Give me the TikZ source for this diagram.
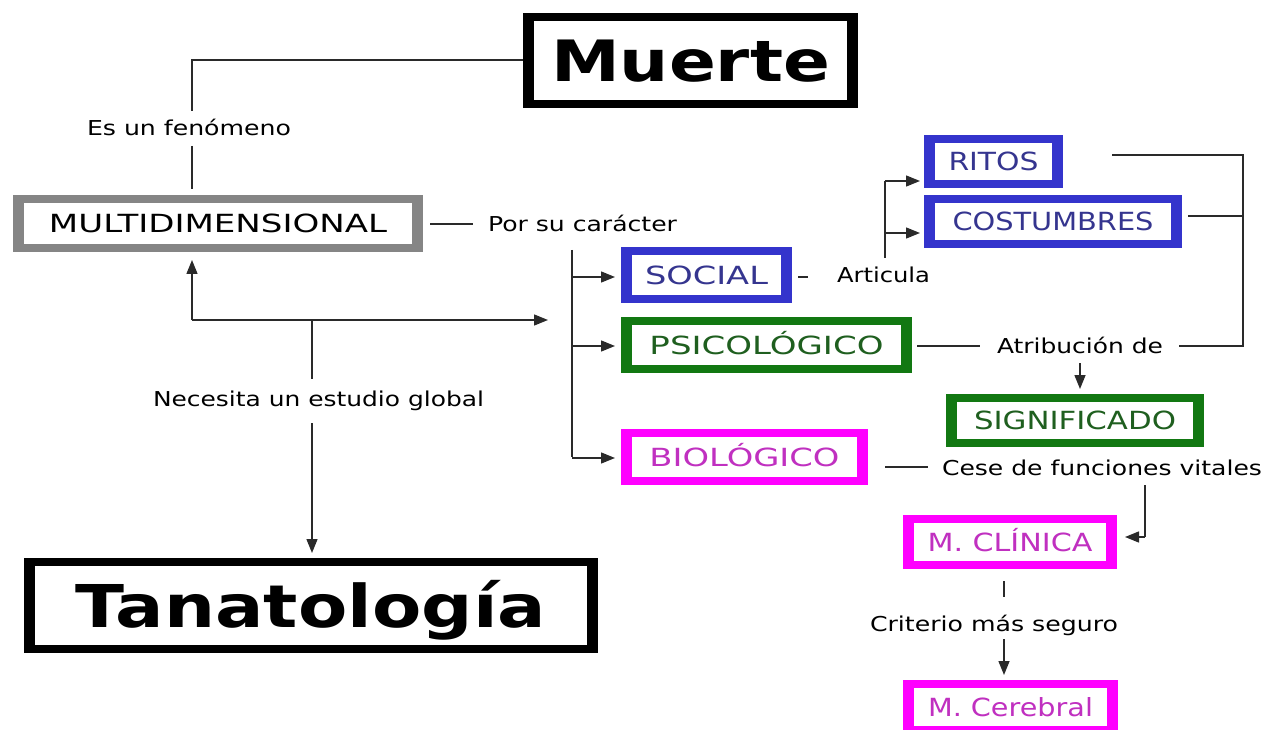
\documentclass[tikz,border=0pt]{standalone}
\usepackage{fontspec}
\setmainfont{DejaVu Sans}
\usetikzlibrary{arrows.meta}
\definecolor{cblue}{HTML}{3434CC}
\definecolor{tblue}{HTML}{35358F}
\definecolor{cgreen}{HTML}{127812}
\definecolor{tgreen}{HTML}{1F5F1F}
\definecolor{cmag}{HTML}{FF00FF}
\definecolor{tmag}{HTML}{C030C0}
\definecolor{cgray}{HTML}{858585}
\definecolor{cline}{HTML}{2A2A2A}
\newcommand\fitw[2]{\resizebox{#1pt}{\height}{#2}}
\tikzset{
  box/.style 2 args={fill=#1, text=#2, inner sep=0pt, outer sep=0pt,
    path picture={\fill[white] ([shift={(11pt,8pt)}]path picture bounding box.south west)
      rectangle ([shift={(-11pt,-8pt)}]path picture bounding box.north east);}},
  sz/.style 2 args={minimum width=#1pt, minimum height=#2pt},
  btext/.style={font=\fontsize{25}{26}\selectfont, text height=18.2pt, text depth=0pt},
  bigtext/.style={font=\fontsize{57}{60}\selectfont\bfseries, text height=41.5pt, text depth=0pt},
  lbl/.style={font=\fontsize{20.5}{22}\selectfont, inner sep=0pt, outer sep=0pt, anchor=base west, text=black},
  ln/.style={draw=cline, line width=1.4pt},
  arr/.style={ln, -{Triangle[length=14pt,width=11pt]}},
}
\begin{document}
\begin{tikzpicture}[x=1pt,y=-1pt]
\useasboundingbox (0,0) rectangle (1283,730);
\fill[white] (0,0) rectangle (1283,730);

% boxes
\node[box={black}{black}, sz={335}{95}, bigtext] (muerte) at (690.5,60.5) {\fitw{279}{Muerte}};
\node[box={black}{black}, sz={574}{95}, bigtext, font=\fontsize{59}{62}\selectfont\bfseries, text height=43pt] (tanato) at (311,605.5) {\fitw{470}{Tanatología}};
\node[box={cgray}{black}, sz={410}{57}, btext] (multi) at (218,223.5) {\fitw{338}{MULTIDIMENSIONAL}};
\node[box={cblue}{tblue}, sz={171}{56}, btext] (social) at (706.5,275) {\fitw{123}{SOCIAL}};
\node[box={cgreen}{tgreen}, sz={291}{56}, btext] (psico) at (766.5,345) {\fitw{234}{PSICOLÓGICO}};
\node[box={cmag}{tmag}, sz={247}{56}, btext] (bio) at (744.5,457) {\fitw{190}{BIOLÓGICO}};
\node[box={cblue}{tblue}, sz={139}{53}, btext] (ritos) at (993.5,161.5) {\fitw{90}{RITOS}};
\node[box={cblue}{tblue}, sz={258}{53}, btext] (costum) at (1053,221.5) {\fitw{201}{COSTUMBRES}};
\node[box={cgreen}{tgreen}, sz={258}{53}, btext] (signif) at (1075,420.5) {\fitw{202}{SIGNIFICADO}};
\node[box={cmag}{tmag}, sz={214}{54}, btext] (clinica) at (1010,542) {\fitw{165}{M. CLÍNICA}};
\node[box={cmag}{tmag}, sz={215}{54}, btext] (cerebral) at (1010.5,707) {\fitw{165}{M. Cerebral}};

% labels
\node[lbl] (esun) at (87,136) {\fitw{204}{Es un fenómeno}};
\node[lbl] (por) at (488,232) {\fitw{189}{Por su carácter}};
\node[lbl] (articula) at (837,283) {\fitw{93}{Articula}};
\node[lbl] (atrib) at (997,353) {\fitw{166}{Atribución de}};
\node[lbl] (necesita) at (153,406) {\fitw{331}{Necesita un estudio global}};
\node[lbl] (cese) at (942,475) {\fitw{320}{Cese de funciones vitales}};
\node[lbl] (criterio) at (870,631) {\fitw{248}{Criterio más seguro}};

% junction coordinates
\coordinate (m1) at (192,60);
\coordinate (m2) at (192,111);
\coordinate (m3) at (192,146);
\coordinate (m4) at (192,189);
\coordinate (a1) at (192,320);
\coordinate (a2) at (548,320);
\coordinate (j1) at (312,320);
\coordinate (n1) at (312,379);
\coordinate (n2) at (312,423);
\coordinate (bt) at (572,250);
\coordinate (s1) at (885,258);
\coordinate (r1) at (1112,155);
\coordinate (b1) at (1243,155);
\coordinate (b2) at (1243,346);
\coordinate (c1) at (1080,363);
\coordinate (v1) at (1145,485);
\coordinate (v2) at (1145,537);
\coordinate (k1) at (1004,581);
\coordinate (k2) at (1004,597);
\coordinate (k3) at (1004,639);

% Muerte -- Es un fenomeno -- MULTIDIMENSIONAL
\draw[ln] (muerte.west |- m1) -- (m1) -- (m2);
\draw[ln] (m3) -- (m4);

% global study
\draw[arr] (a1) -- (192,260);
\draw[arr] (a1) -- (a2);
\draw[ln] (j1) -- (n1);
\draw[arr] (n2) -- (312,553);

% Por su caracter
\draw[ln] (430,224) -- (473,224);
\draw[ln] (bt) -- (bt |- bio.west);
\draw[arr] (bt |- 0,277) -- (615,277);
\draw[arr] (bt |- 0,346) -- (615,346);
\draw[arr] (bt |- 0,458) -- (615,458);

% Social - Articula
\draw[ln] (798,277) -- (808,277);
\draw[ln] (s1) -- (885,181);
\draw[arr] (885,181) -- (920,181);
\draw[arr] (885,233) -- (920,233);

% bracket
\draw[ln] (r1) -- (b1) -- (b2) -- (1179,346);
\draw[ln] (1188,216) -- (1243,216);

% Psicologico - Atribucion
\draw[ln] (917,346) -- (980,346);
\draw[arr] (c1) -- (1080,389);

% Biologico - Cese
\draw[ln] (885,467) -- (928,467);
\draw[ln] (v1) -- (v2);
\draw[arr] (v2) -- (1125,537);

% Clinica - Criterio - Cerebral
\draw[ln] (k1) -- (k2);
\draw[arr] (k3) -- (1004,675);
\end{tikzpicture}
\end{document}
